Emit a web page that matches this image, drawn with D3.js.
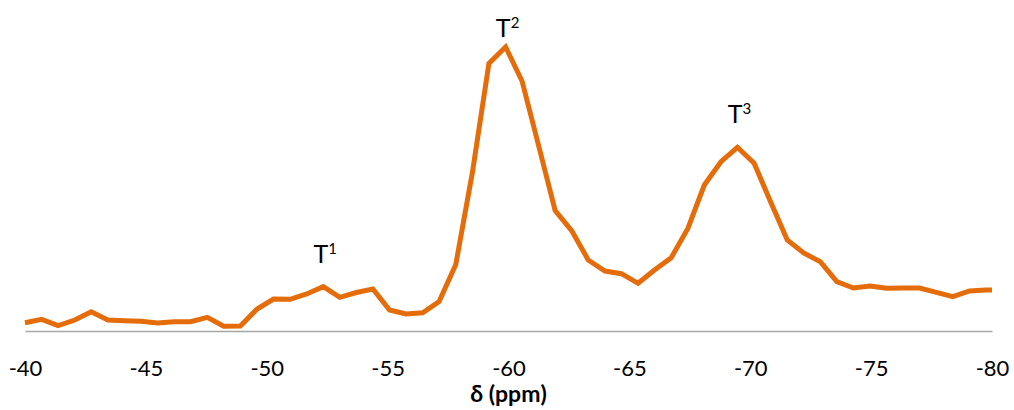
<!DOCTYPE html>
<html>
<head>
<meta charset="utf-8">
<script src="https://cdn.jsdelivr.net/npm/d3@7"></script>
<style>
  body { margin: 0; background: #fff; }
  svg { display: block; font-family: Lato, "Open Sans", sans-serif; }
</style>
</head>
<body>
<div class="chart"></div>
<script>
// chemical shift (ppm)
const shifts = [
  -40.00, -40.69, -41.37, -42.06, -42.74, -43.43, -44.11, -44.80, -45.48, -46.17,
  -46.85, -47.54, -48.22, -48.91, -49.60, -50.28, -50.97, -51.65, -52.34, -53.02,
  -53.71, -54.39, -55.08, -55.76, -56.45, -57.13, -57.82, -58.51, -59.19, -59.88,
  -60.56, -61.25, -61.93, -62.62, -63.30, -63.99, -64.67, -65.36, -66.04, -66.73,
  -67.42, -68.10, -68.79, -69.47, -70.16, -70.84, -71.53, -72.21, -72.90, -73.58,
  -74.27, -74.95, -75.64, -76.33, -77.01, -77.70, -78.38, -79.07, -79.75, -80.00
];
// intensity (arbitrary units)
const intensity = [
  8.3, 11.7, 5.5, 11, 19.3, 11, 10.3, 9.7, 8, 9.3,
  9.3, 13.7, 4.7, 5, 22, 32, 31.7, 37, 44.3, 33.7,
  38.5, 42, 21, 17, 18.3, 29.5, 66.5, 159, 267.5, 284,
  250, 185, 120.5, 100, 71, 60, 57.3, 47.7, 61, 73.3,
  102.5, 146, 169.3, 183.7, 167.7, 129.3, 91, 78, 69.3, 49.3,
  43, 45, 42.7, 43, 43, 38.7, 34.3, 40, 41, 41
];
const tickValues = [-40, -45, -50, -55, -60, -65, -70, -75, -80];
const peakLabels = ['T', 'T', 'T'];
const peakSups = ['1', '2', '3'];
const peakShifts = [-52.34, -59.88, -69.47];
const peakHeights = [44.3, 284, 183.7];

const width = 1014, height = 410;
const baseY = 331;

const svg = d3.select('.chart').append('svg')
  .attr('width', width)
  .attr('height', height);

const x = d3.scaleLinear()
  .domain([-40, -80])
  .range([25, 992]);

const y = d3.scaleLinear()
  .domain([0, 300])
  .range([baseY, 31]);

const points = shifts.map((s, i) => ({ s: s, v: intensity[i] }));

// x axis
const axis = svg.append('g')
  .attr('transform', `translate(0, ${baseY})`)
  .call(d3.axisBottom(x)
    .tickValues(tickValues)
    .tickFormat(d => String(d))
    .tickSize(0)
    .tickSizeOuter(0));

axis.select('.domain')
  .attr('stroke', '#a6a6a6')
  .attr('stroke-width', 1.6);

axis.selectAll('.tick text')
  .attr('y', 45)
  .attr('dy', null)
  .attr('fill', '#000')
  .attr('font-size', '22px')
  .attr('font-family', 'Lato, sans-serif');

const line = d3.line()
  .x(d => x(d.s))
  .y(d => y(d.v));

svg.append('path')
  .datum(points)
  .attr('d', line)
  .attr('fill', 'none')
  .attr('stroke', '#e46c0a')
  .attr('stroke-width', 5);

// peak labels, kept inside the plot area at the top
const lbl = svg.selectAll('.peak')
  .data(peakLabels)
  .enter()
  .append('text')
  .attr('class', 'peak')
  .attr('x', (d, i) => x(peakShifts[i]) + 2)
  .attr('y', (d, i) => Math.max(37, y(peakHeights[i]) - 24))
  .attr('text-anchor', 'middle')
  .attr('font-size', '25px')
  .attr('fill', '#000');

lbl.append('tspan').text(d => d);
lbl.append('tspan')
  .attr('dy', -9)
  .attr('font-size', '15px')
  .text((d, i) => peakSups[i]);

svg.append('text')
  .text('δ (ppm)')
  .attr('x', x(-60))
  .attr('y', 402)
  .attr('text-anchor', 'middle')
  .attr('font-size', '23px')
  .style('font-weight', '700');
</script>
</body>
</html>
